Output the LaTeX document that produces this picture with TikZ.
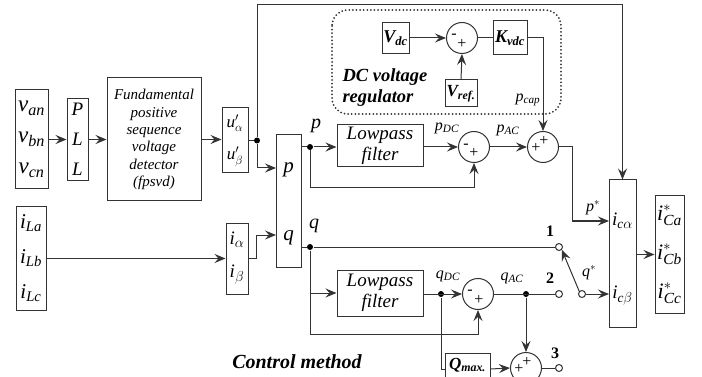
\documentclass[tikz,border=0pt]{standalone}
\usepackage{amsmath}
\usepackage{fontspec}
\setmainfont{Liberation Serif}
\usetikzlibrary{arrows.meta,calc}
\newcommand{\fs}[1]{\fontsize{#1}{#1}\selectfont}
\begin{document}
\begin{tikzpicture}[x=1pt,y=-1pt, line width=1pt, draw=black!80,
  box/.style={draw, inner sep=0pt, align=center},
  sumc/.style={draw, circle, minimum size=31pt, inner sep=0pt},
  term/.style={draw, circle, minimum size=7pt, inner sep=0pt, fill=white},
  dotn/.style={circle, fill=black, minimum size=6pt, inner sep=0pt},
  arr/.style={-{Stealth[length=11pt,width=9pt,inset=4pt]}},
  lbl/.style={font=\fs{16}\itshape, inner sep=0pt},
  sgn/.style={font=\fs{16}, inner sep=0pt},
  num/.style={font=\fs{16}\bfseries, inner sep=0pt},
]
\useasboundingbox (0,0) rectangle (702,377);
\clip (0,0) rectangle (702,377);

% blocks
\node[box, minimum width=33pt, minimum height=99pt, font=\fontsize{23}{31}\selectfont] (v) at (31.5,139.5)
  {$\textit{v}_{\textit{an}}$\\$\textit{v}_{\textit{bn}}$\\$\textit{v}_{\textit{cn}}$};
\node[box, minimum width=21pt, minimum height=82pt, font=\fontsize{19}{30}\selectfont\itshape] (pll) at (77.5,139.5) {P\\L\\L};
\node[box, minimum width=94pt, minimum height=123pt, font=\fontsize{15}{17.4}\selectfont\itshape] (fp) at (154,139.5)
  {Fundamental\\positive\\sequence\\voltage\\detector\\(fpsvd)};
\node[box, minimum width=26pt, minimum height=65pt, font=\fontsize{17}{32}\selectfont] (u) at (235,140.5)
  {$\textit{u}^{\prime}_{\alpha}$\\$\textit{u}^{\prime}_{\beta}$};
\node[box, minimum width=30pt, minimum height=104pt, font=\fontsize{21}{35}\selectfont] (iL) at (31,258.5)
  {$\textit{i}_{\textit{La}}$\\$\textit{i}_{\textit{Lb}}$\\$\textit{i}_{\textit{Lc}}$};
\node[box, minimum width=22pt, minimum height=71pt, font=\fontsize{19}{33}\selectfont] (i) at (237,258.5)
  {$\textit{i}_{\alpha}$\\$\textit{i}_{\beta}$};
\node[box, minimum width=25pt, minimum height=132pt] (pq) at (288.5,201) {};
\node[font=\fs{21}\itshape, inner sep=0pt] (pl) at (288.5,170) {p};
\node[font=\fs{21}\itshape, inner sep=0pt] (ql) at (288.5,238) {q};
\node[box, minimum width=86pt, minimum height=42pt, font=\fontsize{19}{21}\selectfont\itshape] (lp1) at (380,146) {Lowpass\\filter};
\node[box, minimum width=86pt, minimum height=46pt, font=\fontsize{19}{21}\selectfont\itshape] (lp2) at (380,293) {Lowpass\\filter};
\node[box, minimum width=27pt, minimum height=31pt, font=\fs{18}\bfseries\itshape] (vdc) at (395.5,38) {V\textsubscript{dc}};
\node[box, minimum width=32pt, minimum height=27pt, font=\fs{17}\bfseries\itshape] (vref) at (461,93.5) {V\textsubscript{ref.}};
\node[box, minimum width=34pt, minimum height=34pt, font=\fs{18}\bfseries\itshape] (kvdc) at (510,38) {K\textsubscript{vdc}};
\node[box, minimum width=45pt, minimum height=32pt] (qmax) at (467.5,369) {};
\node[font=\fs{17}\bfseries\itshape, inner sep=0pt] (qmaxl) at (467.5,365) {Q\textsubscript{max.}};
\node[box, minimum width=27pt, minimum height=147pt] (ic) at (622.5,253.5) {};
\node[font=\fs{19}, inner sep=0pt] (ica) at (622.5,221) {$\textit{i}_{\textit{c}\alpha}$};
\node[font=\fs{19}, inner sep=0pt] (icb) at (622.5,296) {$\textit{i}_{\textit{c}\beta}$};
\node[box, minimum width=29pt, minimum height=117pt, font=\fontsize{22}{39}\selectfont] (is) at (669.5,254.5)
  {$\textit{i}^{*}_{\textit{Ca}}$\\$\textit{i}^{*}_{\textit{Cb}}$\\$\textit{i}^{*}_{\textit{Cc}}$};

% regulator frame
\draw[line width=2pt, line cap=round, dash pattern=on 0pt off 3.6pt, rounded corners=16pt] (332,10) rectangle (561,114);
\node[font=\fontsize{18.5}{21}\selectfont\bfseries\itshape, align=left, anchor=west, inner sep=0pt] (reg) at (342,88)
  {DC voltage\\regulator};

% summing junctions
\node[sumc] (s1) at (474,147) {};
\node[sumc] (s2) at (543,147) {};
\node[sumc] (s3) at (462,38) {};
\node[sumc] (s4) at (478,294) {};
\node[sumc] (s5) at (526,368) {};
\node[sgn] at ($(s3)+(-8,-2)$) {-};
\node[sgn] at ($(s3)+(0,6)$) {+};
\node[sgn] at ($(s1)+(-8,-1)$) {-};
\node[sgn] at ($(s1)+(0,6)$) {+};
\node[sgn] at ($(s4)+(-8,-2)$) {-};
\node[sgn] at ($(s4)+(1,6)$) {+};
\node[sgn] at ($(s2)+(-7,1)$) {+};
\node[sgn] at ($(s2)+(1,-6)$) {+};
\node[sgn] at ($(s5)+(-7,1)$) {+};
\node[sgn] at ($(s5)+(1,-6)$) {+};

% dots and terminals
\node[dotn] (du) at (257,140.5) {};
\node[dotn] (dp) at (310,147) {};
\node[dotn] (dq) at (310,247) {};
\node[dotn] (dqdc) at (441,294) {};
\node[dotn] (dqac) at (526,294) {};
\node[term] (t1) at (559,247) {};
\node[term] (t2) at (559,294) {};
\node[term] (t3) at (559,368) {};
\node[term] (tc) at (582,294) {};

\coordinate (tl) at (257,5);
\coordinate (pin) at (276,168);
\coordinate (qin) at (276,235);
\coordinate (ib) at (256,258.5);
\coordinate (pfb) at (310,188);
\coordinate (qfb) at (310,334);
\coordinate (qlp) at (310,293);
\coordinate (s2r) at (572,147);
\coordinate (icin1) at (609,221);
\coordinate (icin2) at (609,294);

% connectors
\draw[arr] (v.east) -- (pll.west);
\draw[arr] (pll.east) -- (fp.west);
\draw[arr] (fp.east) -- (u.west |- fp.east);
\draw (u.east |- du) -- (du);
\draw[arr] (du) -- (tl) -| (ic.north);
\draw[arr] (du) |- (pin);
\draw[arr] (iL.east) -- (i.west);
\draw[arr] (i.east) -- (ib) |- (qin);
\draw (pq.east |- dp) -- (dp);
\draw[arr] (dp) -- (lp1.west |- dp);
\draw[arr] (dp) -- (pfb) -| (s1.south);
\draw[arr] (lp1.east |- s1) -- (s1.west);
\draw[arr] (s1.east) -- (s2.west);
\draw[arr] (vdc.east) -- (s3.west);
\draw[arr] (vref.north) -- (s3.south);
\draw (s3.east) -- (kvdc.west);
\draw[arr] (kvdc.east) -| (s2.north);
\draw[arr] (s2.east) -- (s2r) |- (icin1);
\draw (pq.east |- dq) -- (dq) -- (t1.west);
\draw[arr] (dq) -- (qfb) -| (s4.south);
\draw[arr] (qlp) -- (lp2.west |- qlp);
\draw[arr] (lp2.east |- s4) -- (s4.west);
\draw (dqdc) |- (qmax.west);
\draw[arr] (qmax.east) -- (s5.west);
\draw (s4.east) -- (t2.west);
\draw[arr] (dqac) -- (s5.north);
\draw (s5.east) -- (t3.west);
\draw[arr] (tc.east) -- (icin2);
\draw[arr] (tc.north west) -- (t1.south east);
\draw[arr] (ic.east |- is.west) -- (is.west);

% labels
\node[lbl, font=\fs{20}\itshape] at (316,126) {p};
\node[lbl] at (447,128) {\textit{p}\textsubscript{\textit{DC}}};
\node[lbl] at (508,130) {\textit{p}\textsubscript{\textit{AC}}};
\node[lbl] at (528,100) {\textit{p}\textsubscript{\textit{cap}}};
\node[lbl] at (593,208) {$\textit{p}^{*}$};
\node[lbl, font=\fs{20}\itshape] at (314,226) {q};
\node[lbl] at (448,276) {\textit{q}\textsubscript{\textit{DC}}};
\node[lbl] at (512,278) {\textit{q}\textsubscript{\textit{AC}}};
\node[lbl] at (589,273) {$\textit{q}^{*}$};
\node[num] at (550,231) {1};
\node[num] at (550,278) {2};
\node[num] at (555,353) {3};
\node[font=\fs{20}\bfseries\itshape, inner sep=0pt] (cm) at (297,362) {Control method};
\end{tikzpicture}
\end{document}
